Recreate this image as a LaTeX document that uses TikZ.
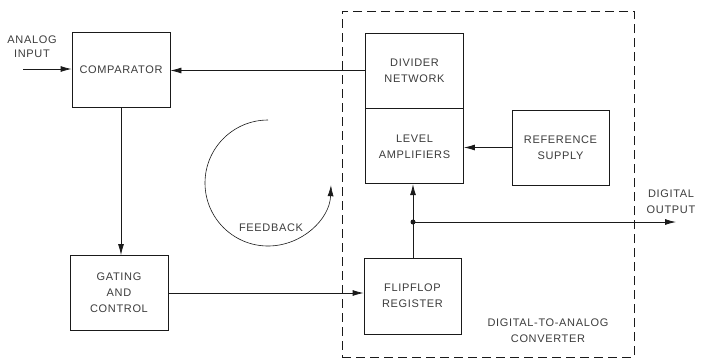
\documentclass[tikz,border=0pt]{standalone}
\usepackage{fontspec}
\usetikzlibrary{arrows.meta, positioning, calc}
\newfontfamily\draftfont{Liberation Sans}[LetterSpace=6]
\definecolor{ink}{HTML}{1A1A1A}
\definecolor{pencil}{HTML}{3C3C3C}

\begin{document}
\begin{tikzpicture}[
    x=1pt, y=-1pt,
    block/.style={
        rectangle, draw=ink, line width=0.8pt, fill=white,
        minimum width=98pt, minimum height=75pt, inner sep=0pt,
        font=\draftfont\fontsize{11}{16}\selectfont, text=pencil, align=center
    },
    dacbox/.style={
        rectangle, draw=ink, line width=0.8pt, dash pattern=on 9pt off 5pt,
        minimum width=292pt, minimum height=346pt, inner sep=0pt
    },
    lbl/.style={font=\draftfont\fontsize{11}{16}\selectfont, text=pencil, align=center, inner sep=0pt},
    flow/.style={-{Latex[length=11pt, width=6pt]}, line width=0.8pt, ink},
]
\useasboundingbox (0,0) rectangle (704,360);

% Converter outline
\node[dacbox] (dac) at (488,184) {};
\node[lbl] (daclbl) at (548,331) {DIGITAL-TO-ANALOG\\CONVERTER};

% Nodes
\node[block] (comparator) at (121,69.5) {COMPARATOR};
\node[block] (gating) at (119,293) {GATING\\AND\\CONTROL};
\node[block] (divider) at (414.5,70.5) {DIVIDER\\NETWORK};
\node[block, below=0pt of divider] (levelamp) {LEVEL\\AMPLIFIERS};
\node[block, minimum width=97pt] (reference) at (560.5,147.5) {REFERENCE\\SUPPLY};
\node[block, minimum width=97pt, minimum height=76pt] (flipflop) at (412.5,296) {FLIPFLOP\\REGISTER};

% Free ends
\coordinate (ain) at (23,69);
\coordinate (tap) at (413,222);
\coordinate (dout) at (676,222);
\node[lbl, font=\draftfont\fontsize{11}{14}\selectfont] (ainlbl) at (32,47) {ANALOG\\INPUT};
\node[lbl] (doutlbl) at (671,202) {DIGITAL\\OUTPUT};

% Signal path
\draw[flow] (ain) -- (ain -| comparator.west);
\draw[flow] (comparator.south) -- (comparator.south |- gating.north);
\draw[flow] (gating.east) -- (gating.east -| flipflop.west);
\draw[line width=0.8pt, ink] (flipflop.north -| tap) -- (tap);
\draw[flow] (tap) -- (tap |- levelamp.south);
\draw[flow] (tap) -- (dout);
\fill[ink] (tap) circle (2.5pt);
\draw[flow] (reference.west) -- (reference.west -| levelamp.east);
\draw[flow] (divider.west) -- (divider.west -| comparator.east);

% Feedback loop
\draw[flow, line width=0.6pt] (268,120) arc[start angle=-90, end angle=-358, radius=63];
\node[lbl] (fblbl) at (271,228) {FEEDBACK};

\end{tikzpicture}
\end{document}
